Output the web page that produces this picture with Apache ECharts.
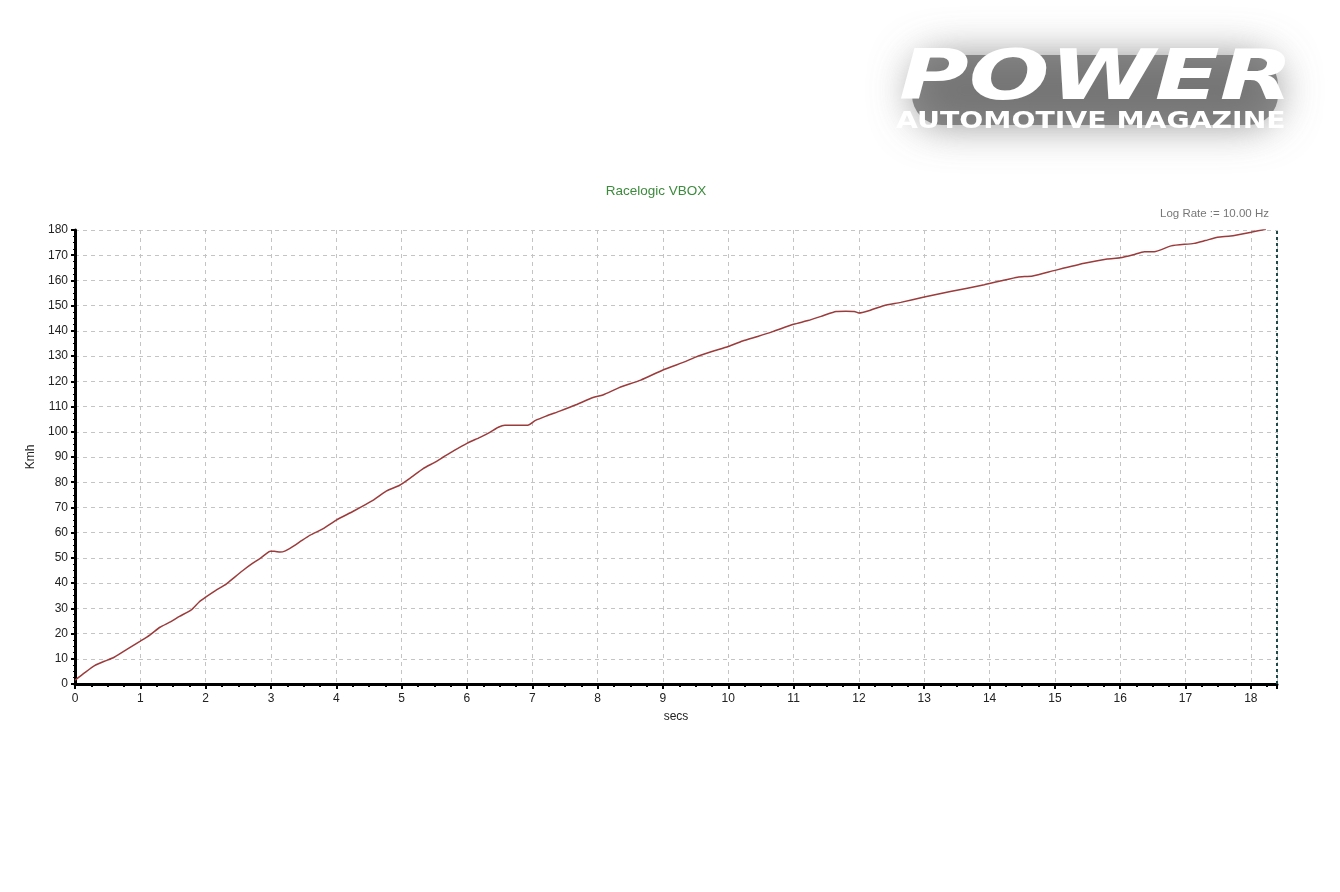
<!DOCTYPE html>
<html><head><meta charset="utf-8">
<script src="https://cdn.jsdelivr.net/npm/echarts@6/dist/echarts.min.js"></script>
<style>html,body{margin:0;padding:0;background:#fff}#c{width:1340px;height:892px}</style>
</head><body><div id="c"></div>
<script>
const titleText = 'Racelogic VBOX';
const rateText = 'Log Rate := 10.00 Hz';
const xName = 'secs';
const yName = 'Kmh';
const logoTop = 'POWER';
const logoBottom = 'AUTOMOTIVE MAGAZINE';
const xMin = 0, xMax = 18.4, xStep = 1;
const yMin = 0, yMax = 180, yStep = 10;
const timeSecs = [0,0.15,0.3,0.45,0.6,0.8,1,1.15,1.3,1.45,1.6,1.78,1.9,2,2.15,2.32,2.45,2.57,2.7,2.83,2.92,2.99,3.05,3.14,3.22,3.32,3.45,3.6,3.8,4,4.26,4.56,4.77,4.97,5.15,5.33,5.5,5.64,5.8,6,6.2,6.35,6.48,6.58,6.75,6.93,7.05,7.21,7.42,7.67,7.93,8.08,8.33,8.66,9,9.35,9.5,9.75,10,10.22,10.45,10.68,11,11.22,11.45,11.65,11.8,11.93,12,12.15,12.38,12.64,13,13.4,13.92,14.2,14.43,14.66,15,15.45,15.8,16,16.2,16.37,16.52,16.78,17.13,17.3,17.49,17.69,18,18.23];
const speedKmh = [1.5,4.5,7.3,9,10.6,13.8,17,19.5,22.5,24.5,26.8,29.4,32.5,34.4,37,39.7,42.5,45,47.5,49.7,51.5,52.6,52.6,52.3,52.8,54.3,56.5,59,61.6,65,68.5,72.8,76.6,78.8,82,85.4,87.8,90,92.5,95.4,97.8,99.8,101.8,102.6,102.6,102.6,104.5,106.2,108.2,110.7,113.6,114.6,117.5,120.5,124.5,127.9,129.6,131.8,133.8,136,137.8,139.7,142.6,144.1,146,147.7,147.8,147.7,147.1,148,150,151.3,153.4,155.6,158.3,160,161.3,161.8,164,166.8,168.5,169,170.2,171.4,171.4,173.7,174.7,175.8,177.1,177.6,179.1,180.3];

const seriesData = timeSecs.map((t, i) => [t, speedKmh[i]]);
const chart = echarts.init(document.getElementById('c'), null, {renderer: 'canvas'});
const labelFont = {fontFamily: 'Liberation Sans, Arial, sans-serif', fontSize: 12, color: '#222'};
chart.setOption({
  animation: false,
  backgroundColor: '#fff',
  graphic: [
    {type: 'rect', left: 912, top: 55, shape: {width: 366, height: 70, r: 30},
     style: {fill: 'rgba(105,105,105,0.75)', shadowBlur: 40, shadowColor: 'rgba(105,105,105,0.95)'}, silent: true},
    {type: 'text', left: 899, top: 47, scaleX: 1.38,
     style: {text: logoTop, fontFamily: 'DejaVu Sans', fontWeight: 'bold', fontStyle: 'italic', fontSize: 69,
       fill: '#ffffff', shadowBlur: 8, shadowColor: 'rgba(30,30,30,0.85)'}},
    {type: 'text', left: 896, top: 111, scaleX: 1.23,
     style: {text: logoBottom, fontFamily: 'DejaVu Sans', fontWeight: 'bold', fontSize: 23,
       fill: '#ffffff', shadowBlur: 5, shadowColor: 'rgba(30,30,30,0.85)'}}
  ],
  title: [
    {text: titleText, left: 651, top: 179, textAlign: 'center',
     textStyle: {fontFamily: 'Liberation Sans, Arial, sans-serif', fontSize: 13.5, fontWeight: 'normal', color: '#3c8a3c'}},
    {text: rateText, right: 66, top: 203,
     textStyle: {fontFamily: 'Liberation Sans, Arial, sans-serif', fontSize: 11.5, fontWeight: 'normal', color: '#777'}}
  ],
  grid: {left: 75, right: 63, top: 230, bottom: 208, containLabel: false},
  xAxis: [{
    type: 'value', min: xMin, max: xMax, interval: xStep,
    name: xName, nameLocation: 'middle', nameGap: 27,
    nameTextStyle: Object.assign({}, labelFont),
    axisLine: {show: true, onZero: false, lineStyle: {color: '#000', width: 3}},
    axisTick: {show: true, length: 5, lineStyle: {color: '#000', width: 2}},
    minorTick: {show: true, splitNumber: 4, length: 3, lineStyle: {color: '#000', width: 2}},
    axisLabel: Object.assign({margin: 9, showMaxLabel: false}, labelFont),
    splitLine: {show: true, lineStyle: {color: '#c4c4c4', type: [4, 4], width: 1}}
  }, {
    type: 'value', position: 'top', min: xMin, max: xMax, interval: xStep,
    axisLine: {show: true, lineStyle: {color: '#000', width: 2}},
    axisTick: {show: false}, axisLabel: {show: false}, splitLine: {show: false}
  }],
  yAxis: {
    type: 'value', min: yMin, max: yMax, interval: yStep,
    name: yName, nameLocation: 'middle', nameGap: 27, nameRotate: 90,
    nameTextStyle: Object.assign({}, labelFont),
    axisLine: {show: true, lineStyle: {color: '#000', width: 3}},
    axisTick: {show: true, length: 4, lineStyle: {color: '#000', width: 2}},
    minorTick: {show: true, splitNumber: 4, length: 2, lineStyle: {color: '#000', width: 1}},
    axisLabel: Object.assign({margin: 7}, labelFont),
    splitLine: {show: true, lineStyle: {color: '#c4c4c4', type: [4, 4], width: 1}}
  },
  series: [{
    type: 'line', data: seriesData, showSymbol: false, smooth: 0.2,
    lineStyle: {color: '#9c3b3b', width: 1.5},
    markLine: {silent: true, symbol: 'none', label: {show: false},
      lineStyle: {color: '#1f4a4a', type: [3, 3], width: 2},
      data: [{xAxis: xMax}]}
  }]
});
</script></body></html>
